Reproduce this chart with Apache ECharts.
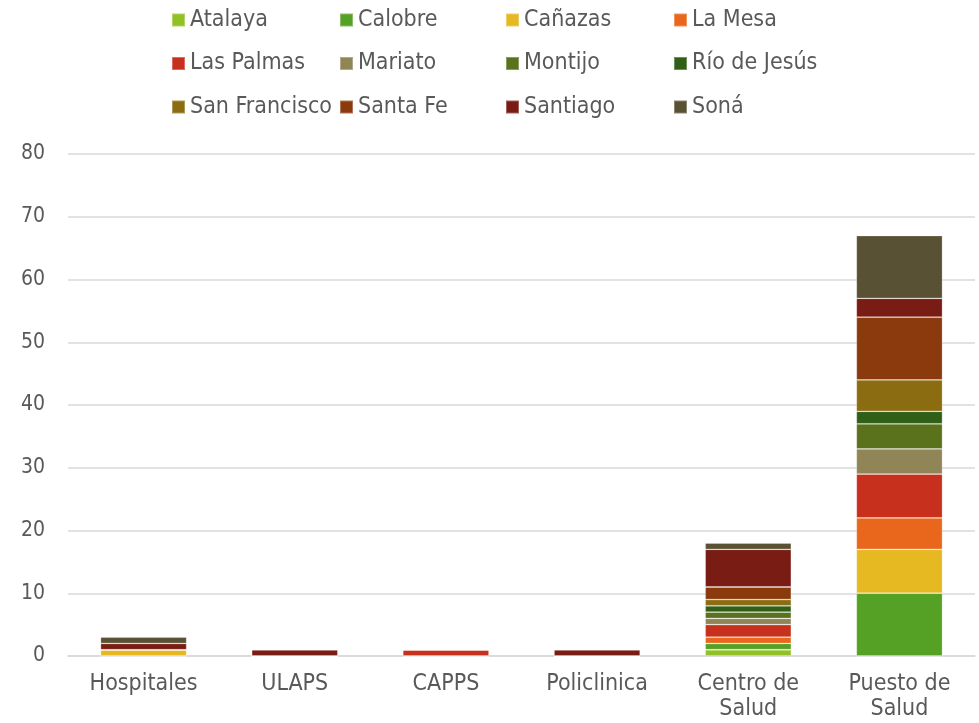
<!DOCTYPE html>
<html>
<head>
<meta charset="utf-8">
<script src="https://cdn.jsdelivr.net/npm/echarts@6/dist/echarts.min.js"></script>
<style>
  html, body { margin: 0; padding: 0; background: #fff; }
  #chart { width: 979px; height: 723px; }
</style>
</head>
<body>
<div id="chart"></div>
<script>
// categorías (tipo de instalación)
const categories = ['Hospitales', 'ULAPS', 'CAPPS', 'Policlinica', 'Centro de Salud', 'Puesto de Salud']

// distritos
const districts = ['Atalaya', 'Calobre', 'Cañazas', 'La Mesa', 'Las Palmas', 'Mariato',
  'Montijo', 'Río de Jesús', 'San Francisco', 'Santa Fe', 'Santiago', 'Soná']

const colors = ['#92c125', '#55a125', '#e6b821', '#e9671c', '#c8301e', '#908557',
  '#5a721b', '#305f18', '#8b6c11', '#8b3a0e', '#791c13', '#585134']

// valores por distrito, en el orden de categories
const atalaya      = [0, 0, 0, 0, 1, 0]
const calobre      = [0, 0, 0, 0, 1, 10]
const canazas      = [1, 0, 0, 0, 0, 7]
const laMesa       = [0, 0, 0, 0, 1, 5]
const lasPalmas    = [0, 0, 1, 0, 2, 7]
const mariato      = [0, 0, 0, 0, 1, 4]
const montijo      = [0, 0, 0, 0, 1, 4]
const rioDeJesus   = [0, 0, 0, 0, 1, 2]
const sanFrancisco = [0, 0, 0, 0, 1, 5]
const santaFe      = [0, 0, 0, 0, 2, 10]
const santiago     = [1, 1, 0, 1, 6, 3]
const sona         = [1, 0, 0, 0, 1, 10]

const seriesValues = [atalaya, calobre, canazas, laMesa, lasPalmas, mariato,
  montijo, rioDeJesus, sanFrancisco, santaFe, santiago, sona]

const yTicks = { min: 0, max: 80, interval: 10 }

const textColor = '#595959'
const fontFamily = '"DejaVu Sans Condensed", "DejaVu Sans", sans-serif'

const chart = echarts.init(document.getElementById('chart'))

// leyenda en 4 columnas (3 filas)
const legendCols = [171, 339, 505, 673]
const legends = legendCols.map((left, col) => ({
  orient: 'vertical',
  left: left,
  top: 8,
  padding: 0,
  itemWidth: 13,
  itemHeight: 13,
  itemGap: 19.5,
  icon: 'rect',
  selectedMode: false,
  data: districts.filter((d, i) => i % 4 === col),
  textStyle: { color: textColor, fontSize: 23, lineHeight: 24, fontFamily: fontFamily }
}))

const option = {
  animation: false,
  color: colors,
  legend: legends,
  grid: { left: 68, right: 4, top: 154, bottom: 67 },
  xAxis: {
    type: 'category',
    data: categories,
    axisLine: { lineStyle: { color: '#d9d9d9', width: 1.5 } },
    axisTick: { show: false },
    axisLabel: {
      color: textColor,
      fontSize: 23,
      fontFamily: fontFamily,
      margin: 16,
      lineHeight: 25,
      interval: 0,
      formatter: v => v.replace(' de ', ' de\n')
    }
  },
  yAxis: {
    type: 'value',
    min: yTicks.min,
    max: yTicks.max,
    interval: yTicks.interval,
    axisLine: { show: false },
    axisTick: { show: false },
    axisLabel: { color: textColor, fontSize: 21, fontFamily: fontFamily, margin: 23 },
    splitLine: { lineStyle: { color: '#d9d9d9', width: 1.5 } }
  },
  series: districts.map((name, i) => ({
    name: name,
    type: 'bar',
    stack: 'total',
    barWidth: '57%',
    data: seriesValues[i],
    itemStyle: { borderColor: 'rgba(255,255,255,0.3)', borderWidth: 0.8 }
  }))
}

chart.setOption(option)
</script>
</body>
</html>
